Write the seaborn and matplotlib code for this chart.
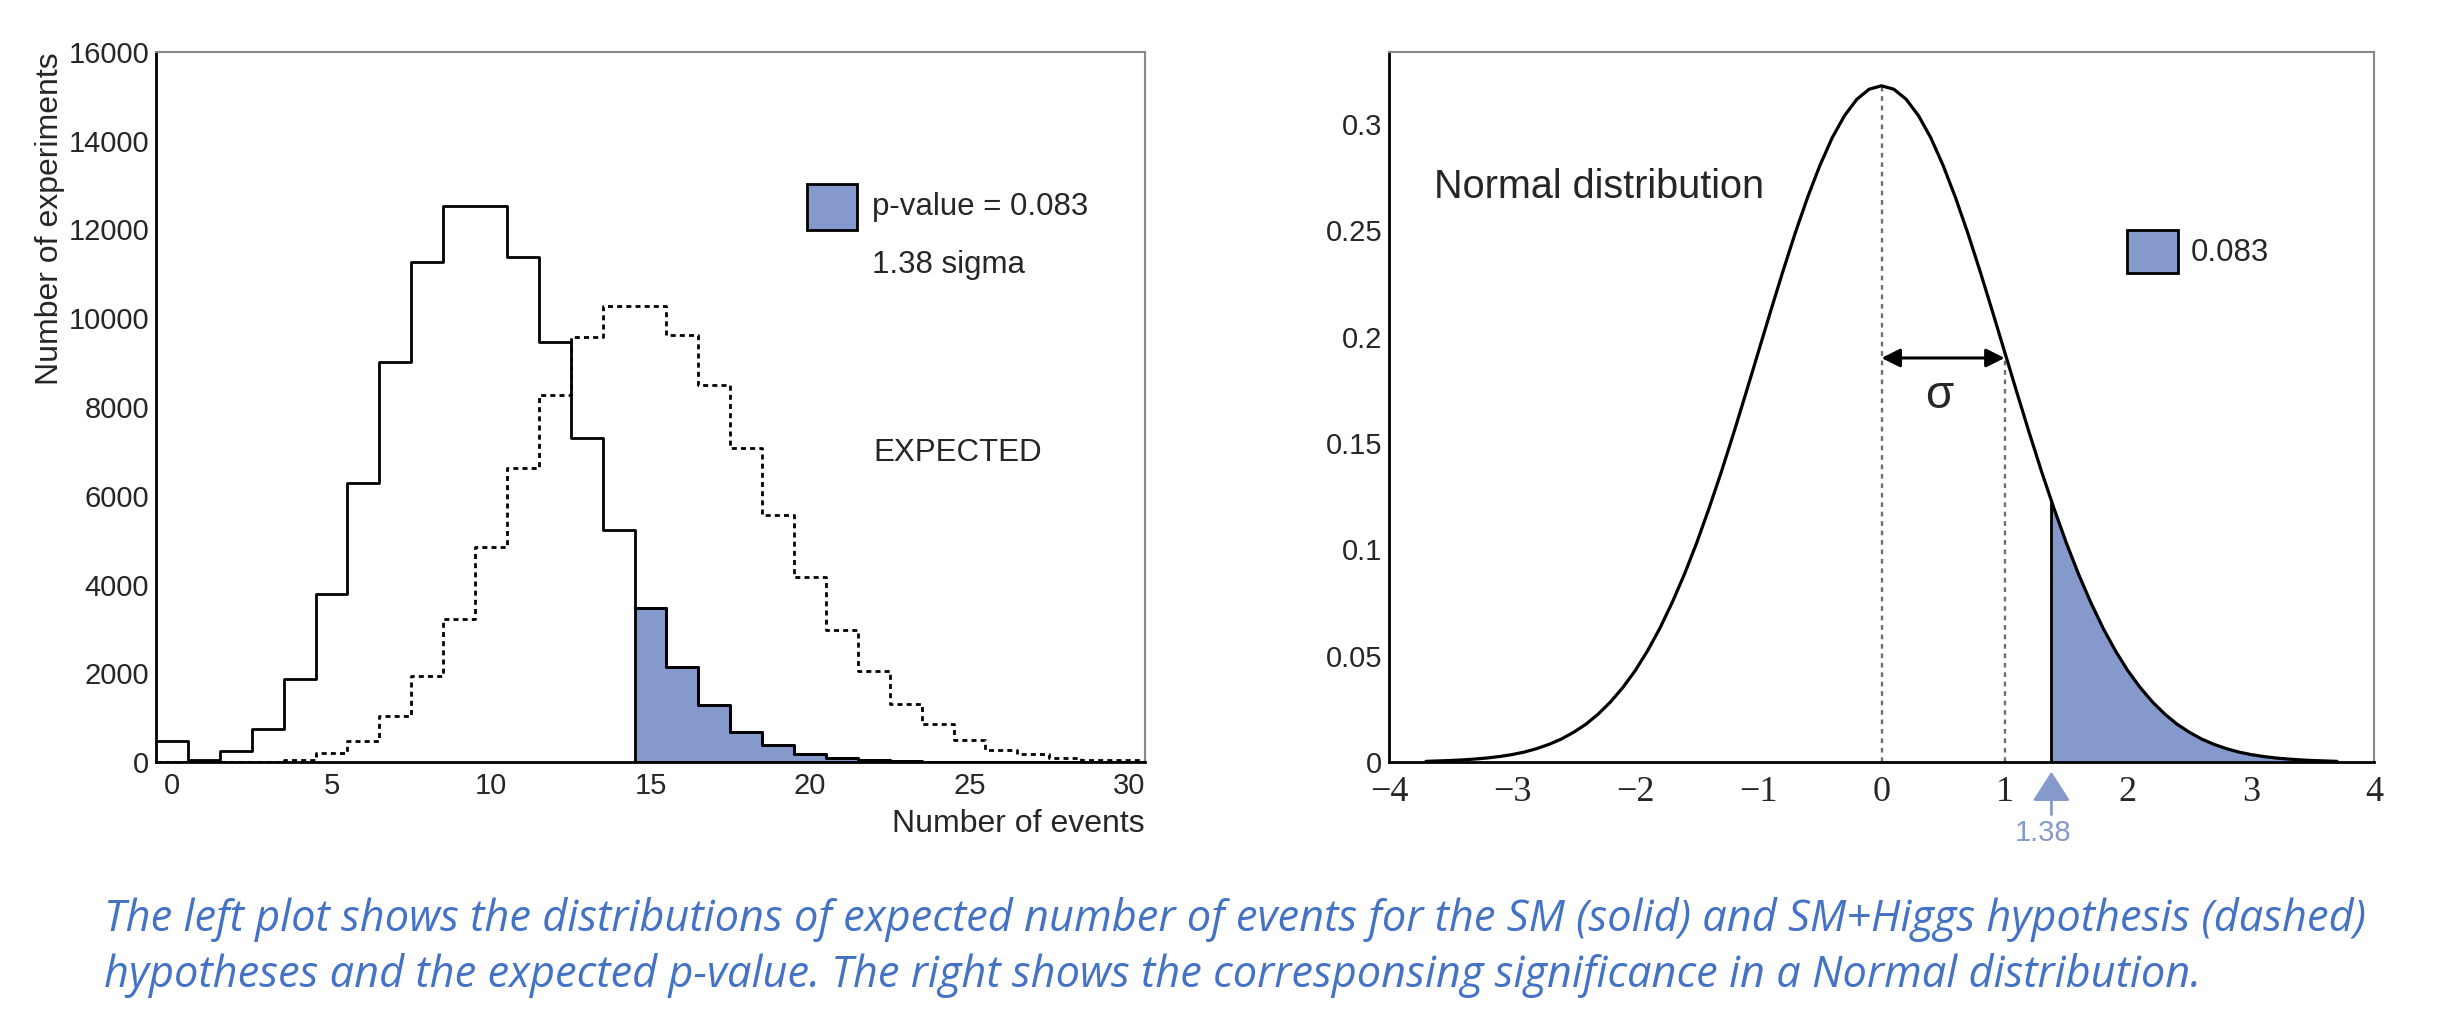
import numpy as np
import pandas as pd
import matplotlib
matplotlib.use("Agg")
import matplotlib.pyplot as plt
import seaborn as sns
from matplotlib.ticker import MultipleLocator, FuncFormatter
from matplotlib.patches import Rectangle

# ------------------------------------------------------------------ data
n_events = list(range(31))
sm_counts = [470, 40, 240, 750, 1880, 3790, 6290, 9010, 11270, 12520,
             12520, 11380, 9465, 7300, 5220, 3460, 2140, 1290, 680, 380,
             175, 90, 40, 20, 8, 4, 2, 1, 0, 0, 0]
smh_counts = [0, 0, 0, 5, 50, 200, 470, 1030, 1930, 3230,
              4850, 6630, 8260, 9580, 10270, 10270, 9615, 8490, 7070, 5560,
              4170, 2980, 2050, 1315, 850, 490, 280, 175, 90, 50, 38]
n_observed = 15          # first bin counted in the p-value tail
p_value_text = "p-value = 0.083"
sigma_text = "1.38 sigma"

z_vals = [-3.7, -3.6, -3.5, -3.4, -3.3, -3.2, -3.1, -3.0, -2.9, -2.8,
          -2.7, -2.6, -2.5, -2.4, -2.3, -2.2, -2.1, -2.0, -1.9, -1.8,
          -1.7, -1.6, -1.5, -1.4, -1.3, -1.2, -1.1, -1.0, -0.9, -0.8,
          -0.7, -0.6, -0.5, -0.4, -0.3, -0.2, -0.1, 0.0, 0.1, 0.2,
          0.3, 0.4, 0.5, 0.6, 0.7, 0.8, 0.9, 1.0, 1.1, 1.2,
          1.3, 1.4, 1.5, 1.6, 1.7, 1.8, 1.9, 2.0, 2.1, 2.2,
          2.3, 2.4, 2.5, 2.6, 2.7, 2.8, 2.9, 3.0, 3.1, 3.2,
          3.3, 3.4, 3.5, 3.6, 3.7]
pdf_vals = [0.0003, 0.0005, 0.0007, 0.0010, 0.0014, 0.0019, 0.0026, 0.0035, 0.0047, 0.0063,
            0.0083, 0.0108, 0.0140, 0.0178, 0.0226, 0.0283, 0.0351, 0.0430, 0.0523, 0.0629,
            0.0750, 0.0884, 0.1032, 0.1194, 0.1366, 0.1548, 0.1737, 0.1929, 0.2121, 0.2309,
            0.2489, 0.2656, 0.2806, 0.2936, 0.3040, 0.3117, 0.3164, 0.3180, 0.3164, 0.3117,
            0.3040, 0.2936, 0.2806, 0.2656, 0.2489, 0.2309, 0.2121, 0.1929, 0.1737, 0.1548,
            0.1366, 0.1194, 0.1032, 0.0884, 0.0750, 0.0629, 0.0523, 0.0430, 0.0351, 0.0283,
            0.0226, 0.0178, 0.0140, 0.0108, 0.0083, 0.0063, 0.0047, 0.0035, 0.0026, 0.0019,
            0.0014, 0.0010, 0.0007, 0.0005, 0.0003]
z_cut = 1.38
z_cut_height = 0.123
tail_label = "0.083"
mu_value = 0.0
sigma_value = 1.0
arrow_height = 0.19

caption_lines = [
    "The left plot shows the distributions of expected number of events for the SM (solid) and SM+Higgs hypothesis (dashed)",
    "hypotheses and the expected p-value. The right shows the corresponsing significance in a Normal distribution.",
]

# ------------------------------------------------------------------ style
sns.set_style("white")
plt.rcParams["font.family"] = ["Liberation Sans", "DejaVu Sans"]
BLUE = "#8599CC"
CAPTION_BLUE = "#4472C4"

W, H = 2442, 1024
fig = plt.figure(figsize=(W / 100, H / 100), dpi=100)
fig.patch.set_facecolor("white")

def frac_box(x0, x1, ytop, ybot):
    return [x0 / W, 1 - ybot / H, (x1 - x0) / W, (ybot - ytop) / H]

axL = fig.add_axes(frac_box(156, 1145, 52, 762))
axR = fig.add_axes(frac_box(1389, 2374, 52, 762))

df = pd.DataFrame({"n": n_events, "sm": sm_counts, "smh": smh_counts})
tail = df[df["n"] >= n_observed]

# ------------------------------------------------------------------ left plot
sns.histplot(data=tail, x="n", weights="sm", discrete=True, element="step",
             fill=True, color=BLUE, alpha=1.0, edgecolor="black",
             linewidth=2.0, ax=axL)
sns.histplot(data=df, x="n", weights="smh", discrete=True, element="step",
             fill=False, color="black", linewidth=2.0,
             linestyle=(0, (1.8, 1.5)), ax=axL)
sns.histplot(data=df, x="n", weights="sm", discrete=True, element="step",
             fill=False, color="black", linewidth=2.0, ax=axL)

axL.set_xlim(-0.5, 30.5)
axL.set_ylim(0, 16000)
axL.xaxis.set_major_locator(MultipleLocator(5))
axL.xaxis.set_minor_locator(MultipleLocator(1))
axL.yaxis.set_major_locator(MultipleLocator(2000))
axL.yaxis.set_minor_locator(MultipleLocator(500))
axL.set_xlabel("")
axL.set_ylabel("")
axL.tick_params(axis="x", which="major", direction="in", length=15, width=1.6,
                labelsize=21, pad=7, top=False)
axL.tick_params(axis="x", which="minor", direction="in", length=7.5, width=1.6, top=False)
axL.tick_params(axis="y", which="major", direction="in", length=21, width=1.6,
                labelsize=21, pad=5, right=False)
axL.tick_params(axis="y", which="minor", direction="in", length=11, width=1.6, right=False)

axL.text(1.0, -0.087, "Number of events", transform=axL.transAxes,
         ha="right", va="center", fontsize=23)
axL.text(-0.1075, 1.0, "Number of experiments", transform=axL.transAxes,
         ha="center", va="top", rotation=90, fontsize=23)

axL.add_patch(Rectangle((0.6583, 0.7493), 0.0505, 0.0648, transform=axL.transAxes,
                        facecolor=BLUE, edgecolor="black", lw=2, clip_on=False))
axL.text(0.7237, 0.782, p_value_text, transform=axL.transAxes,
         ha="left", va="center", fontsize=22.5)
axL.text(0.7237, 0.700, sigma_text, transform=axL.transAxes,
         ha="left", va="center", fontsize=22.5)
axL.text(0.7256, 0.4352, "EXPECTED", transform=axL.transAxes,
         ha="left", va="center", fontsize=22.5)

# ------------------------------------------------------------------ right plot
z_arr = np.array(z_vals)
p_arr = np.array(pdf_vals)
mask = z_arr > z_cut
tail_z = np.concatenate([[z_cut], z_arr[mask]])
tail_p = np.concatenate([[z_cut_height], p_arr[mask]])
axR.fill_between(tail_z, 0, tail_p, color=BLUE, lw=0, zorder=1)
axR.vlines(z_cut, 0, z_cut_height, color="black", lw=2.0, zorder=3)

sns.lineplot(x=z_vals, y=pdf_vals, color="black", linewidth=2.3, ax=axR, zorder=4)

peak_h = p_arr[np.argmin(np.abs(z_arr - mu_value))]
one_sig_h = p_arr[np.argmin(np.abs(z_arr - (mu_value + sigma_value)))]
axR.vlines([mu_value, mu_value + sigma_value], 0, [peak_h, one_sig_h],
           colors="#6e6e6e", linestyles=(0, (2.0, 2.0)), lw=1.7, zorder=2)
axR.annotate("", xy=(mu_value, arrow_height), xytext=(mu_value + sigma_value, arrow_height),
             arrowprops=dict(arrowstyle="<|-|>", color="black", lw=2.2,
                             mutation_scale=28, shrinkA=0, shrinkB=0))
axR.text(mu_value + 0.47 * sigma_value, 0.172, "σ", ha="center", va="center",
         fontsize=33, family=["Liberation Sans", "DejaVu Sans"])

axR.set_xlim(-4, 4)
axR.set_ylim(0, 0.3339)
axR.xaxis.set_major_locator(MultipleLocator(1))
axR.xaxis.set_minor_locator(MultipleLocator(0.2))
axR.yaxis.set_major_locator(MultipleLocator(0.05))
axR.yaxis.set_minor_locator(MultipleLocator(0.01))
axR.yaxis.set_major_formatter(FuncFormatter(lambda v, p: f"{v:g}"))
axR.tick_params(axis="x", which="major", direction="in", length=15, width=1.6,
                labelsize=26, pad=10, top=False)
axR.tick_params(axis="x", which="minor", direction="in", length=7.5, width=1.6, top=False)
axR.tick_params(axis="y", which="major", direction="in", length=21, width=1.6,
                labelsize=21, pad=5, right=False)
axR.tick_params(axis="y", which="minor", direction="in", length=11, width=1.6, right=False)
for lab in axR.get_xticklabels():
    lab.set_family(["Liberation Serif", "DejaVu Serif"])
axR.set_xlabel("")
axR.set_ylabel("")

axR.text(0.0454, 0.8103, "Normal distribution", transform=axR.transAxes,
         ha="left", va="center", fontsize=28.5)
axR.add_patch(Rectangle((0.749, 0.6887), 0.0518, 0.0606, transform=axR.transAxes,
                        facecolor=BLUE, edgecolor="black", lw=2, clip_on=False))
axR.text(0.8142, 0.7169, tail_label, transform=axR.transAxes,
         ha="left", va="center", fontsize=22.5)

axR.annotate("", xy=(z_cut, -0.0137), xycoords=("data", "axes fraction"),
             xytext=(z_cut, -0.074), textcoords=("data", "axes fraction"),
             arrowprops=dict(arrowstyle="-|>,head_length=0.7,head_width=0.45",
                             color=BLUE, lw=2, shrinkA=0, shrinkB=0, mutation_scale=26),
             annotation_clip=False)
axR.annotate(f"{z_cut:g}", xy=(z_cut, -0.1), xycoords=("data", "axes fraction"),
             xytext=(-6, 0), textcoords="offset points", ha="center", va="center",
             fontsize=21, color=BLUE, annotation_clip=False)

# ------------------------------------------------------------------ spines
for ax in (axL, axR):
    for side in ("left", "bottom"):
        ax.spines[side].set_color("black")
        ax.spines[side].set_linewidth(2.0)
    for side in ("top", "right"):
        ax.spines[side].set_color("#888888")
        ax.spines[side].set_linewidth(1.5)
    ax.set_facecolor("white")
    ax.grid(False)

# ------------------------------------------------------------------ caption
cap_font = dict(family=["Open Sans", "DejaVu Sans"], style="italic", color=CAPTION_BLUE)
t1 = fig.text(104 / W, 1 - 920 / H, caption_lines[0], ha="left", va="center",
              fontsize=30, **cap_font)
t2 = fig.text(104 / W, 1 - 976 / H, caption_lines[1], ha="left", va="center",
              fontsize=30, **cap_font)
fig.canvas.draw()
renderer = fig.canvas.get_renderer()
w1 = t1.get_window_extent(renderer).width
scale = (2368 - 104) / w1
t1.set_fontsize(30 * scale)
t2.set_fontsize(30 * scale)

fig.savefig("out.png", dpi=100, facecolor="white")
